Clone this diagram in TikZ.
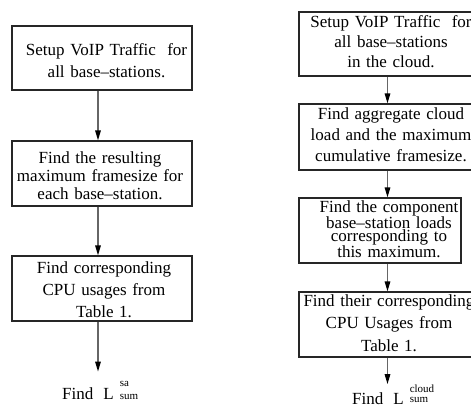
\documentclass[tikz,border=0pt]{standalone}
\usepackage{fontspec}
\setmainfont{Liberation Serif}
\usetikzlibrary{arrows.meta}
\newcommand{\lfont}[1]{\fontsize{17}{#1}\selectfont}
\newcommand{\smallidx}{\fontsize{11}{11}\selectfont}
\begin{document}
\begin{tikzpicture}[x=1pt,y=-1pt,
  box/.style={draw=black!85,line width=1.2pt,minimum width=180pt,minimum height=65pt,inner sep=0pt},
  txt/.style={anchor=base,text width=200pt,align=center,inner sep=0pt},
  fin/.style={anchor=base west,inner sep=0pt,font=\lfont{20}},
  arr/.style={draw=black!60,line width=1.4pt,-{Triangle[length=10pt,width=5.5pt,color=black]}}]
\useasboundingbox (0,0) rectangle (471,410);
\clip (0,0) rectangle (471,410);
\coordinate (axL) at (98,0);
\coordinate (axR) at (387.5,0);
% left column
\node[box,minimum height=64pt] (b1) at (102,58) {};
\node[box] (b2) at (102,173.5) {};
\node[box] (b3) at (102,288.5) {};
\node[txt,font=\lfont{22}] (t1) at (106.5,55) {Setup VoIP Traffic\ \ for\\all base--stations.};
\node[txt,font=\lfont{18}] (t2) at (100,163) {Find the resulting\\maximum framesize for\\each base--station.};
\node[txt,font=\lfont{22}] (t3) at (104,273) {Find corresponding\\CPU usages from\\Table 1.};
\node[fin] (f1) at (62,399) {Find\hspace{10pt}L\hspace{6pt}\rlap{\raisebox{13pt}{\smallidx sa}}{\smallidx sum}};
% right column
\node[box,minimum height=64pt] (c1) at (389,44) {};
\node[box,minimum height=66pt] (c2) at (389,137) {};
\node[box,minimum width=162pt] (c3) at (380,230.5) {};
\node[box] (c4) at (389,324.5) {};
\node[txt,font=\lfont{20}] (u1) at (391,27) {Setup VoIP Traffic\ \ for\\all base--stations\\in the cloud.};
\node[txt,font=\lfont{21}] (u2) at (391,119) {Find aggregate cloud\\load and the maximum\\cumulative framesize.};
\node[txt,font=\lfont{12.7}] (u3) at (389,212) {Find the component\\base--station loads\\corresponding to\\this maximum.};
\node[txt,font=\lfont{22.5}] (u4) at (389,306) {Find their corresponding\\CPU Usages from\\Table 1.};
\node[fin] (f2) at (352,404) {Find\hspace{10pt}L\hspace{6pt}\rlap{\raisebox{12pt}{\smallidx cloud}}\raisebox{2pt}{\smallidx sum}};
% connectors
\draw[arr] (b1.south -| axL) -- (b2.north -| axL);
\draw[arr] (b2.south -| axL) -- (b3.north -| axL);
\draw[arr,shorten >=9pt] (b3.south -| axL) -- (f1.north -| axL);
\draw[arr] (c1.south -| axR) -- (c2.north -| axR);
\draw[arr] (c2.south -| axR) -- (c3.north -| axR);
\draw[arr] (c3.south -| axR) -- (c4.north -| axR);
\draw[arr] (c4.south -| axR) -- (f2.north -| axR);
\end{tikzpicture}
\end{document}
